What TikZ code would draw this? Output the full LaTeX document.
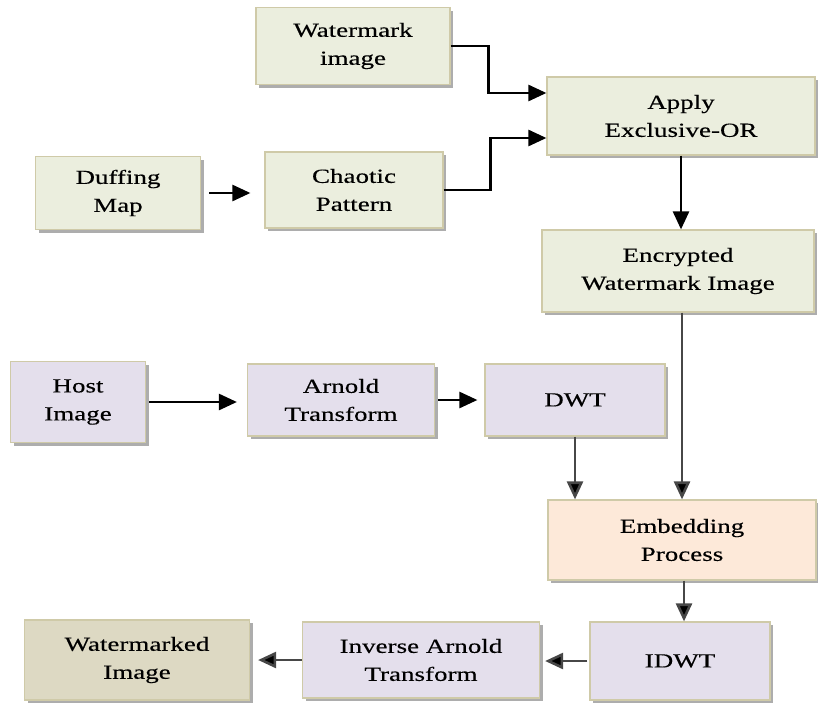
\documentclass[tikz,border=0pt]{standalone}
\usepackage{fontspec}
\setmainfont{Liberation Serif}[FakeStretch=1.35,FakeBold=0.35]
\usetikzlibrary{arrows.meta,shadows,calc}
\definecolor{gfill}{HTML}{EBEEDE}
\definecolor{pfill}{HTML}{E4DFEC}
\definecolor{ofill}{HTML}{FDE9D9}
\definecolor{tfill}{HTML}{DDD9C3}
\definecolor{bord}{HTML}{CFCAA8}
\tikzset{
  box/.style={draw=bord, line width=1.2pt, align=center, inner sep=0pt,
    font=\fontsize{20}{28}\selectfont,
    drop shadow={shadow xshift=3pt, shadow yshift=-3pt, fill=black!40, opacity=0.8}},
  gbox/.style={box, fill=gfill},
  pbox/.style={box, fill=pfill},
  obox/.style={box, fill=ofill},
  tbox/.style={box, fill=tfill},
  arr/.style={line width=2.6pt, -{Triangle[length=18pt,width=16pt]}},
  garr/.style={arr, draw=black!72, -{Triangle[length=18pt,width=16pt,fill=black]}}
}
\begin{document}
\begin{tikzpicture}[x=1pt,y=-1pt]
\useasboundingbox (0,0) rectangle (818,704);
\node[gbox, minimum width=194pt, minimum height=77pt] (wm) at (353,46) {Watermark\\image};
\node[gbox, minimum width=268pt, minimum height=78pt] (xor) at (681,116) {Apply\\Exclusive-OR};
\node[gbox, minimum width=165pt, minimum height=73pt] (duff) at (118,193) {Duffing\\Map};
\node[gbox, minimum width=178pt, minimum height=76pt] (chaos) at (354,190) {Chaotic\\Pattern};
\node[gbox, minimum width=272pt, minimum height=82pt] (enc) at (678,271) {Encrypted\\Watermark Image};
\node[pbox, minimum width=135pt, minimum height=81pt] (host) at (78,402) {Host\\Image};
\node[pbox, minimum width=187pt, minimum height=72pt] (arn) at (341,400) {Arnold\\Transform};
\node[pbox, minimum width=180pt, minimum height=72pt] (dwt) at (575,400) {DWT};
\node[obox, minimum width=268pt, minimum height=80pt] (emb) at (682,540) {Embedding\\Process};
\node[pbox, minimum width=180pt, minimum height=78pt] (idwt) at (680,661) {IDWT};
\node[pbox, minimum width=237pt, minimum height=76pt] (inv) at (421,660) {Inverse Arnold\\Transform};
\node[tbox, minimum width=225pt, minimum height=80pt] (wmd) at (137,660) {Watermarked\\Image};

\coordinate (j1) at ($(wm.east)+(38,0)$);
\coordinate (j2) at ($(chaos.east)+(47,0)$);
\draw[arr] (wm.east) -- (j1) |- ([yshift=23pt]xor.west);
\draw[arr] (chaos.east) -- (j2) |- ([yshift=-22pt]xor.west);
\draw[arr, shorten <=8pt, shorten >=14pt] (duff.east) -- (chaos.west |- duff.east);
\draw[arr] (xor.south) -- (xor.south |- enc.north);
\draw[garr] ([xshift=4pt]enc.south) -- ([xshift=4pt]enc.south |- emb.north);
\draw[arr, shorten <=3pt, shorten >=10pt] (host.east) -- (arn.west |- host.east);
\draw[arr, shorten <=3pt, shorten >=7pt] (arn.east) -- (dwt.west |- arn.east);
\draw[garr] (dwt.south) -- (dwt.south |- emb.north);
\draw[garr] ([xshift=2pt]emb.south) -- ([xshift=2pt]emb.south |- idwt.north);
\draw[garr, shorten <=2pt, shorten >=5pt] (idwt.west) -- (inv.east |- idwt.west);
\draw[garr, shorten >=8pt] (inv.west) -- (wmd.east |- inv.west);
\end{tikzpicture}
\end{document}
